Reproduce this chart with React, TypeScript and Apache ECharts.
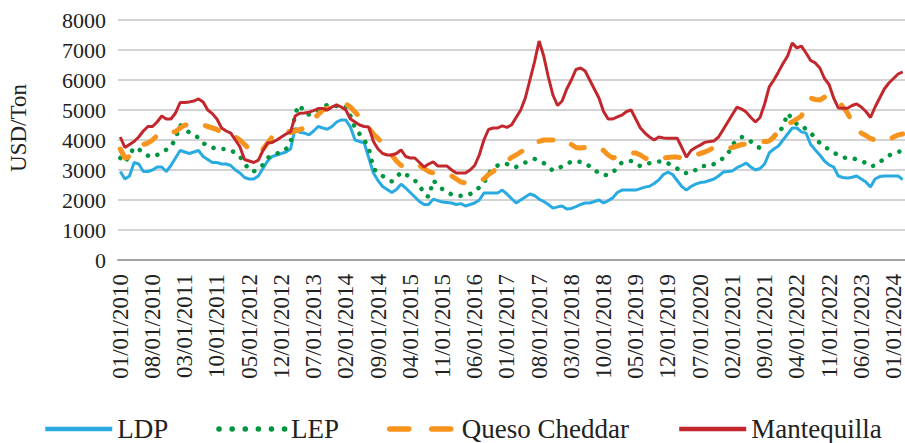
import React, { useEffect, useRef } from "react";
import * as echarts from "echarts";

const START_YEAR = 2010;
const N_MONTHS = 171;
const categories: string[] = [];
for (let i = 0; i < N_MONTHS; i++) {
  const y = START_YEAR + Math.floor(i / 12);
  const m = (i % 12) + 1;
  categories.push(`${m < 10 ? "0" + m : m}/01/${y}`);
}

const ldp = [
  2950, 2700, 2800, 3250, 3200, 2950, 2950, 3000, 3100, 3100, 2950, 3150,
  3400, 3650, 3600, 3550, 3600, 3650, 3450, 3350, 3250, 3250, 3200, 3200,
  3150, 3000, 2900, 2750, 2700, 2700, 2800, 3050, 3300, 3450, 3500, 3550,
  3600, 3700, 4400, 4250, 4230, 4170, 4300, 4450, 4400, 4360, 4450, 4600,
  4670, 4670, 4430, 4000, 3950, 3900, 3400, 2900, 2650, 2450, 2350, 2250,
  2350, 2530, 2400, 2250, 2100, 1950, 1850, 1850, 2030, 1980, 1930, 1920,
  1900, 1850, 1880, 1800, 1850, 1900, 2000, 2230, 2230, 2230, 2230, 2330,
  2200, 2050, 1900, 2000, 2100, 2200, 2150, 2030, 1950, 1850, 1730, 1770,
  1800, 1700, 1720, 1780, 1850, 1900, 1900, 1950, 2000, 1900, 1980, 2070,
  2250, 2330, 2330, 2330, 2330, 2380, 2430, 2460, 2550, 2670, 2850, 2930,
  2850, 2650, 2450, 2330, 2450, 2530, 2580, 2600, 2650, 2700, 2800, 2930,
  2950, 2970, 3080, 3150, 3230, 3100, 3000, 3050, 3200, 3570, 3700, 3800,
  4000, 4200, 4400, 4400, 4270, 4230, 3850, 3670, 3500, 3300, 3170, 3100,
  2800, 2750, 2730, 2760, 2800, 2700, 2600, 2430, 2700, 2780, 2800, 2800,
  2800, 2800, 2680,
];

const lep = [
  3400, 3250, 3500, 3750, 3700, 3550, 3480, 3430, 3500, 3570, 3680, 3770,
  4050, 4500, 4350, 4250, 4150, 4080, 3900, 3800, 3750, 3700, 3700, 3700,
  3650, 3580, 3450, 3230, 3000, 2950, 3050, 3170, 3400, 3500, 3550, 3580,
  3700, 3900, 4900, 5170, 4900, 4850, 4900, 4980, 5100, 5170, 5150, 5130,
  5130, 5130, 4800, 4400, 4200, 4000, 3730, 3050, 2900, 2800, 2720, 2620,
  2750, 2930, 2850, 2770, 2650, 2500, 2200, 2100, 2650, 2500, 2360, 2280,
  2180, 2150, 2140, 2150, 2200, 2270, 2420, 2570, 2870, 3080, 3150, 3220,
  3200, 3100, 3100, 3180, 3250, 3300, 3370, 3300, 3230, 3100, 2980, 3050,
  3120, 3200, 3280, 3300, 3270, 3230, 3120, 3000, 2900, 2820, 2850, 2900,
  3100, 3250, 3280, 3300, 3200, 3130, 3160, 3230, 3250, 3280, 3300, 3220,
  3150, 3050, 2920, 2900, 2900, 3000, 3130, 3130, 3130, 3200, 3280, 3400,
  3520, 3850, 3980, 4100, 4050, 3950, 3820, 3730, 3900, 4030, 4130, 4230,
  4450, 4890, 4700, 4530, 4500, 4350, 4250, 4050, 3900, 3780, 3680, 3580,
  3500, 3420, 3400, 3400, 3350, 3300, 3230, 3120, 3150, 3280, 3350, 3480,
  3550, 3600, 3650,
];

const cheddar = [
  3700, 3400, 3450, 3550, 3700, 3850, 3900, 4000, 4150, 4250, 4250, 4250,
  4280, 4400, 4500, 4500, 4550, 4550, 4500, 4450, 4400, 4350, 4250, 4250,
  4230, 4100, 4000, 3850, 3700, 3600, 3550, 3700, 3900, 4100, 4200, 4250,
  4330, 4250, 4300, 4350, 4400, 4500, 4700, 4850, 5000, 5050, 5100, 5150,
  5150, 5200, 5100, 4930, 4770, 4600, 4400, 4200, 4050, 3900, 3750, 3500,
  3300, 3150, 3150, 3200, 3230, 3150, 3050, 2950, 2900, 2900, 2900, 2880,
  2800, 2700, 2600, 2570, 2550, 2580, 2600, 2700, 2850, 2950, 3070, 3200,
  3300, 3420, 3500, 3600, 3700, 3750, 3850, 3950, 4000, 4000, 4000, 4000,
  4030, 3950, 3850, 3750, 3730, 3750, 3750, 3770, 3770, 3650, 3500, 3400,
  3450, 3500, 3550, 3570, 3570, 3500, 3400, 3330, 3350, 3350, 3400, 3420,
  3430, 3430, 3400, 3400, 3420, 3500, 3550, 3600, 3670, 3750, 3800, 3770,
  3730, 3750, 3800, 3850, 3870, 3900, 3900, 3930, 3950, 3970, 4100, 4300,
  4450, 4550, 4600, 4700, 4800, 5200, 5400, 5350, 5330, 5430, 5400, 5350,
  5320, 5100, 4900, 4600, 4400, 4230, 4150, 4050, 4000, 3970, 3950, 4000,
  4100, 4170, 4200,
];

const butter = [
  4100, 3750, 3850, 3950, 4100, 4300, 4450, 4450, 4600, 4800, 4700, 4700,
  4900, 5250, 5250, 5270, 5300, 5370, 5270, 5000, 4880, 4700, 4400, 4300,
  4230, 4000, 3770, 3350, 3300, 3250, 3330, 3650, 3900, 3920, 4000, 4100,
  4200, 4270, 4800, 4890, 4900, 4930, 4980, 5050, 5050, 5000, 5100, 5170,
  5100, 5000, 4700, 4600, 4500, 4450, 4430, 3950, 3700, 3550, 3500, 3500,
  3550, 3670, 3450, 3400, 3400, 3250, 3100, 3200, 3270, 3130, 3130, 3130,
  3000, 2900, 2900, 2900, 3000, 3150, 3500, 4000, 4350, 4400, 4400, 4470,
  4420, 4500, 4750, 5000, 5400, 6000, 6600, 7300, 6800, 6100, 5500, 5150,
  5300, 5700, 6000, 6350, 6400, 6300, 6000, 5700, 5400, 4950, 4700, 4700,
  4770, 4830, 4950, 5000, 4700, 4400, 4230, 4100, 4000, 4100, 4070, 4060,
  4060, 4060, 3750, 3430, 3650, 3750, 3830, 3920, 3950, 3970, 4100, 4350,
  4600, 4850, 5100, 5030, 4930, 4750, 4600, 4750, 5200, 5770, 6000, 6270,
  6550, 6800, 7230, 7070, 7130, 6900, 6650, 6570, 6400, 6050, 5850, 5400,
  5070, 5060, 5060, 5150, 5200, 5100, 4950, 4750, 5100, 5400, 5700, 5900,
  6050, 6200, 6270,
];

const FONT = "'Liberation Serif', 'Times New Roman', serif";

export default function App() {
  const ref = useRef<HTMLDivElement>(null);
  useEffect(() => {
    if (!ref.current) return;
    const chart = echarts.init(ref.current, undefined, { renderer: "svg" });
    chart.setOption({
      animation: false,
      backgroundColor: "#ffffff",
      grid: { left: 118, top: 20, width: 789, height: 240, containLabel: false },
      graphic: [
        {
          type: "text",
          x: 18,
          y: 128,
          rotation: Math.PI / 2,
          style: {
            text: "USD/Ton",
            fontFamily: FONT,
            fontSize: 23,
            fill: "#222",
            textAlign: "center",
            textVerticalAlign: "middle",
          },
        },
      ],
      legend: {
        data: [
          { name: "LDP", lineStyle: { width: 4.5 } },
          { name: "LEP", lineStyle: { width: 5.5, type: [0.1, 13], cap: "round" } },
          { name: "Queso Cheddar", lineStyle: { width: 5.5, type: [19, 23], cap: "round" } },
          { name: "Mantequilla", lineStyle: { width: 4.5 } },
        ],
        left: 38,
        top: 410,
        itemWidth: 67,
        itemHeight: 12,
        itemGap: 48,
        itemStyle: { opacity: 0 },
        textStyle: { fontFamily: FONT, fontSize: 27, color: "#222", lineHeight: 28 },
      },
      xAxis: {
        type: "category",
        data: categories,
        boundaryGap: true,
        axisTick: { show: false },
        axisLine: { lineStyle: { color: "#a3a3a3", width: 2 } },
        axisLabel: {
          interval: 6,
          rotate: 90,
          margin: 14,
          fontFamily: FONT,
          fontSize: 23,
          color: "#222",
        },
        splitLine: { show: false },
      },
      yAxis: {
        type: "value",
        min: 0,
        max: 8000,
        interval: 1000,
        axisLine: { show: false },
        axisTick: { show: false },
        axisLabel: {
          margin: 12,
          fontFamily: FONT,
          fontSize: 22,
          color: "#222",
          formatter: (v: number) => String(v),
        },
        splitLine: { lineStyle: { color: "#c4c4c4", width: 1.6 } },
      },
      series: [
        {
          name: "LDP",
          type: "line",
          data: ldp,
          symbol: "none",
          showSymbol: false,
          color: "#29abe2",
          lineStyle: { color: "#29abe2", width: 3 },
        },
        {
          name: "LEP",
          type: "line",
          data: lep,
          symbol: "none",
          showSymbol: false,
          color: "#00963f",
          lineStyle: { color: "#00963f", width: 4.5, type: [0.1, 10], cap: "round" },
        },
        {
          name: "Queso Cheddar",
          type: "line",
          data: cheddar,
          symbol: "none",
          showSymbol: false,
          color: "#f7941d",
          lineStyle: { color: "#f7941d", width: 5, type: [14, 20], cap: "round" },
        },
        {
          name: "Mantequilla",
          type: "line",
          data: butter,
          symbol: "none",
          showSymbol: false,
          color: "#c1272d",
          lineStyle: { color: "#c1272d", width: 3 },
        },
      ],
    });
    return () => chart.dispose();
  }, []);
  return (
    <div
      ref={ref}
      style={{ position: "absolute", left: 0, top: 0, width: 905, height: 443 }}
    />
  );
}
